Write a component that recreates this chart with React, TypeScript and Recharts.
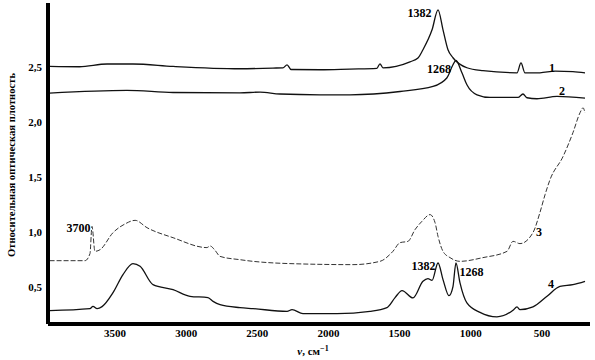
import React from "react";
import { LineChart, Line, XAxis, YAxis, ReferenceDot } from "recharts";

// wavenumbers (cm-1) and optical density
const NU1 = [3960, 3750, 3556, 3374, 3092, 2622, 2390, 2320, 2291, 2263, 2059, 1849, 1660, 1638, 1617, 1427, 1371, 1336, 1272, 1230, 1195, 1160, 1125, 1027, 914, 675, 647, 619, 514, 408, 282, 197];
const A1 = [2.503, 2.5, 2.525, 2.525, 2.503, 2.482, 2.488, 2.49, 2.518, 2.475, 2.473, 2.479, 2.485, 2.527, 2.49, 2.545, 2.58, 2.655, 2.836, 3.018, 2.836, 2.655, 2.582, 2.491, 2.464, 2.445, 2.536, 2.445, 2.445, 2.46, 2.455, 2.445];

const NU2 = [3960, 3416, 3092, 2622, 2481, 2341, 2059, 1849, 1497, 1265, 1167, 1125, 1104, 1062, 1027, 956, 865, 668, 633, 605, 535, 394, 197];
const A2 = [2.261, 2.285, 2.266, 2.262, 2.27, 2.252, 2.245, 2.245, 2.275, 2.321, 2.4, 2.518, 2.557, 2.445, 2.336, 2.245, 2.221, 2.221, 2.252, 2.218, 2.209, 2.23, 2.215];

const NU3 = [3960, 3711, 3676, 3662, 3641, 3605, 3514, 3430, 3359, 3275, 3092, 2854, 2832, 2797, 2762, 2622, 2530, 2179, 1828, 1638, 1547, 1497, 1441, 1392, 1343, 1286, 1251, 1230, 1195, 1146, 1076, 914, 745, 703, 654, 563, 514, 478, 443, 352, 282, 232, 211, 197];
const A3 = [0.736, 0.736, 0.8, 1.048, 0.821, 0.836, 0.991, 1.07, 1.103, 1.036, 0.945, 0.855, 0.87, 0.83, 0.775, 0.745, 0.73, 0.706, 0.7, 0.73, 0.821, 0.9, 0.912, 1.018, 1.094, 1.155, 1.082, 0.957, 0.821, 0.764, 0.73, 0.764, 0.821, 0.912, 0.891, 0.991, 1.173, 1.336, 1.473, 1.682, 1.9, 2.082, 2.127, 2.08];

const NU4 = [3960, 3676, 3655, 3626, 3591, 3514, 3444, 3374, 3324, 3233, 3092, 2973, 2847, 2811, 2762, 2622, 2530, 2291, 2256, 2179, 1940, 1708, 1589, 1532, 1483, 1406, 1336, 1301, 1272, 1230, 1195, 1153, 1125, 1104, 1076, 1027, 935, 816, 703, 675, 654, 563, 464, 373, 282, 197];
const A4 = [0.282, 0.3, 0.321, 0.3, 0.318, 0.445, 0.609, 0.709, 0.685, 0.518, 0.473, 0.412, 0.4, 0.366, 0.336, 0.309, 0.3, 0.275, 0.291, 0.255, 0.255, 0.275, 0.309, 0.4, 0.464, 0.397, 0.548, 0.573, 0.557, 0.715, 0.564, 0.418, 0.5, 0.715, 0.536, 0.352, 0.266, 0.225, 0.285, 0.315, 0.29, 0.315, 0.412, 0.503, 0.518, 0.548];

const X_TICKS = [3500, 3000, 2500, 2000, 1500, 1000, 500];
const Y_TICKS = [0.5, 1.0, 1.5, 2.0, 2.5];

// annotations: [text, nu, a]
const NOTES: [string, number, number][] = [
  ["1382", 1360, 2.995],
  ["1268", 1223, 2.482],
  ["1", 429, 2.491],
  ["2", 359, 2.282],
  ["3700", 3756, 1.036],
  ["3", 521, 1.0],
  ["4", 436, 0.527],
  ["1382", 1332, 0.691],
  ["1268", 995, 0.636],
];

const toRows = (nu: number[], a: number[]) => nu.map((n, i) => ({ nu: n, a: a[i] }));

const font = { fontFamily: "Liberation Serif", fontWeight: 700, fontSize: 11, fill: "#000" };

export default function App() {
  const s1 = toRows(NU1, A1);
  const s2 = toRows(NU2, A2);
  const s3 = toRows(NU3, A3);
  const s4 = toRows(NU4, A4);

  return (
    <div style={{ position: "absolute", left: 0, top: 0, width: 595, height: 360, background: "#fff" }}>
      <LineChart width={595} height={360} margin={{ top: 3, right: 5, left: 0, bottom: 0 }}>
        <XAxis
          type="number"
          dataKey="nu"
          domain={[162, 3971]}
          reversed
          allowDataOverflow
          ticks={X_TICKS}
          height={36}
          tickLine={false}
          tickSize={3}
          axisLine={{ stroke: "#000", strokeWidth: 4 }}
          tick={font}
        />
        <YAxis
          type="number"
          dataKey="a"
          domain={[0.16, 3.08]}
          allowDataOverflow
          ticks={Y_TICKS}
          width={48}
          tickLine={false}
          tickSize={4}
          axisLine={{ stroke: "#000", strokeWidth: 4 }}
          tick={font}
          tickFormatter={(v: number) => v.toFixed(1).replace(".", ",")}
        />
        <Line data={s1} dataKey="a" type="monotoneX" stroke="#111" strokeWidth={1.3} dot={false} isAnimationActive={false} />
        <Line data={s2} dataKey="a" type="monotoneX" stroke="#111" strokeWidth={1.3} dot={false} isAnimationActive={false} />
        <Line data={s3} dataKey="a" type="monotoneX" stroke="#333" strokeWidth={1} strokeDasharray="5 2" dot={false} isAnimationActive={false} />
        <Line data={s4} dataKey="a" type="monotoneX" stroke="#111" strokeWidth={1.3} dot={false} isAnimationActive={false} />
        {NOTES.map(([t, n, a], i) => (
          <ReferenceDot
            key={i}
            x={n}
            y={a}
            r={0}
            stroke="none"
            label={{ value: t, position: "center", ...font, fontSize: 12 }}
          />
        ))}
      </LineChart>
      <svg width={595} height={360} style={{ position: "absolute", left: 0, top: 0, pointerEvents: "none" }}>
        <text
          transform="translate(15,165) rotate(-90)"
          textAnchor="middle"
          textLength={184}
          lengthAdjust="spacingAndGlyphs"
          style={{ fontFamily: "Liberation Serif", fontWeight: 700, fontSize: 10.5 }}
        >
          Относительная оптическая плотность
        </text>
        <text x={313} y={355} textAnchor="middle" style={{ fontFamily: "Liberation Serif", fontWeight: 700, fontSize: 11 }}>
          <tspan fontStyle="italic">ν</tspan>, см
          <tspan dy={-4} fontSize={8}>−1</tspan>
        </text>
      </svg>
    </div>
  );
}
